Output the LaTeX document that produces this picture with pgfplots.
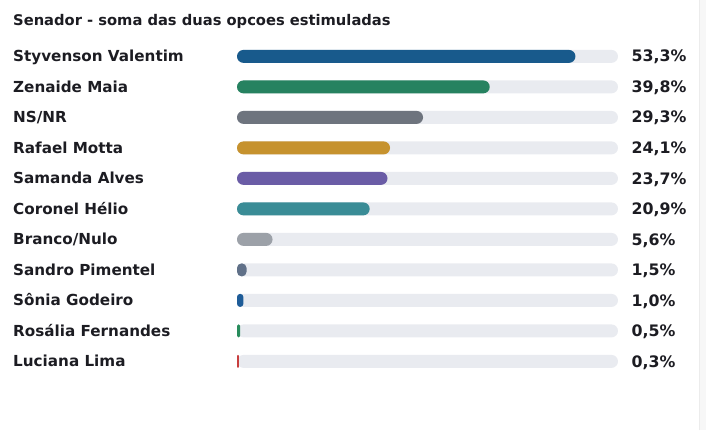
\documentclass[border=0pt]{standalone}
\usepackage{fontspec}
\setmainfont{DejaVu Sans}
\usepackage{pgfplots}
\pgfplotsset{compat=1.18}
\definecolor{txt}{RGB}{28,28,34}
\definecolor{track}{RGB}{233,235,240}
\definecolor{c1}{RGB}{24,90,140}
\definecolor{c2}{RGB}{38,130,96}
\definecolor{c3}{RGB}{110,116,126}
\definecolor{c4}{RGB}{198,146,46}
\definecolor{c5}{RGB}{106,92,166}
\definecolor{c6}{RGB}{58,140,150}
\definecolor{c7}{RGB}{156,161,168}
\definecolor{c8}{RGB}{96,112,136}
\definecolor{c9}{RGB}{30,92,152}
\definecolor{c10}{RGB}{40,140,92}
\definecolor{c11}{RGB}{200,62,62}
\begin{document}
\begin{tikzpicture}[x=1pt,y=1pt]
\begin{axis}[
  anchor=origin, at={(237pt,374pt)},
  x=6.35pt, y=-30.5pt,
  xmin=0, xmax=60, ymin=-0.5, ymax=10.5,
  hide axis, clip=false,
  every axis plot/.append style={xbar, bar width=13pt, bar shift=0pt, draw=none, rounded corners=6.5pt},
]
\addplot[fill=track] coordinates {(60,0) (60,1) (60,2) (60,3) (60,4) (60,5) (60,6) (60,7) (60,8) (60,9) (60,10)};
\addplot[fill=c1] coordinates {(53.3,0)};
\addplot[fill=c2] coordinates {(39.8,1)};
\addplot[fill=c3] coordinates {(29.3,2)};
\addplot[fill=c4] coordinates {(24.1,3)};
\addplot[fill=c5] coordinates {(23.7,4)};
\addplot[fill=c6] coordinates {(20.9,5)};
\addplot[fill=c7] coordinates {(5.6,6)};
\addplot[fill=c8, rounded corners=4.5pt] coordinates {(1.5,7)};
\addplot[fill=c9, rounded corners=3pt] coordinates {(1.0,8)};
\addplot[fill=c10, rounded corners=1.5pt] coordinates {(0.5,9)};
\addplot[fill=c11, rounded corners=0.9pt] coordinates {(0.3,10)};
\addplot[draw=none, fill=none, rounded corners=0pt, xbar=0pt, only marks, mark=none,
  point meta=explicit symbolic,
  nodes near coords, nodes near coords align={anchor=base west},
  every node near coord/.style={anchor=base west, xshift=13.5pt, yshift=-5.6pt, font=\bfseries\fontsize{15.8}{18}\selectfont, text=txt, inner sep=0pt}]
coordinates {
 (60,0) [53,3\%]
 (60,1) [39,8\%]
 (60,2) [29,3\%]
 (60,3) [24,1\%]
 (60,4) [23,7\%]
 (60,5) [20,9\%]
 (60,6) [5,6\%]
 (60,7) [1,5\%]
 (60,8) [1,0\%]
 (60,9) [0,5\%]
 (60,10) [0,3\%]
};
\end{axis}
\pgfresetboundingbox
\path (0,0) rectangle (706,430);
\fill[gray!6] (699,0) rectangle (706,430);
\draw[gray!15, line width=0.8pt] (699,0) -- (699,430);
\begin{scope}[every node/.style={anchor=base west, inner sep=0pt, text=txt, yshift=-5.5pt, font=\bfseries\fontsize{15.2}{18}\selectfont}]
\node[font=\bfseries\fontsize{14.7}{17}\selectfont] at (13,410) {Senador - soma das duas opcoes estimuladas};
\node at (13,374) {Styvenson Valentim};
\node at (13,343.5) {Zenaide Maia};
\node at (13,313) {NS/NR};
\node at (13,282.5) {Rafael Motta};
\node at (13,252) {Samanda Alves};
\node at (13,221.5) {Coronel Hélio};
\node at (13,191) {Branco/Nulo};
\node at (13,160.5) {Sandro Pimentel};
\node at (13,130) {Sônia Godeiro};
\node at (13,99.5) {Rosália Fernandes};
\node at (13,69) {Luciana Lima};
\end{scope}
\end{tikzpicture}
\end{document}
